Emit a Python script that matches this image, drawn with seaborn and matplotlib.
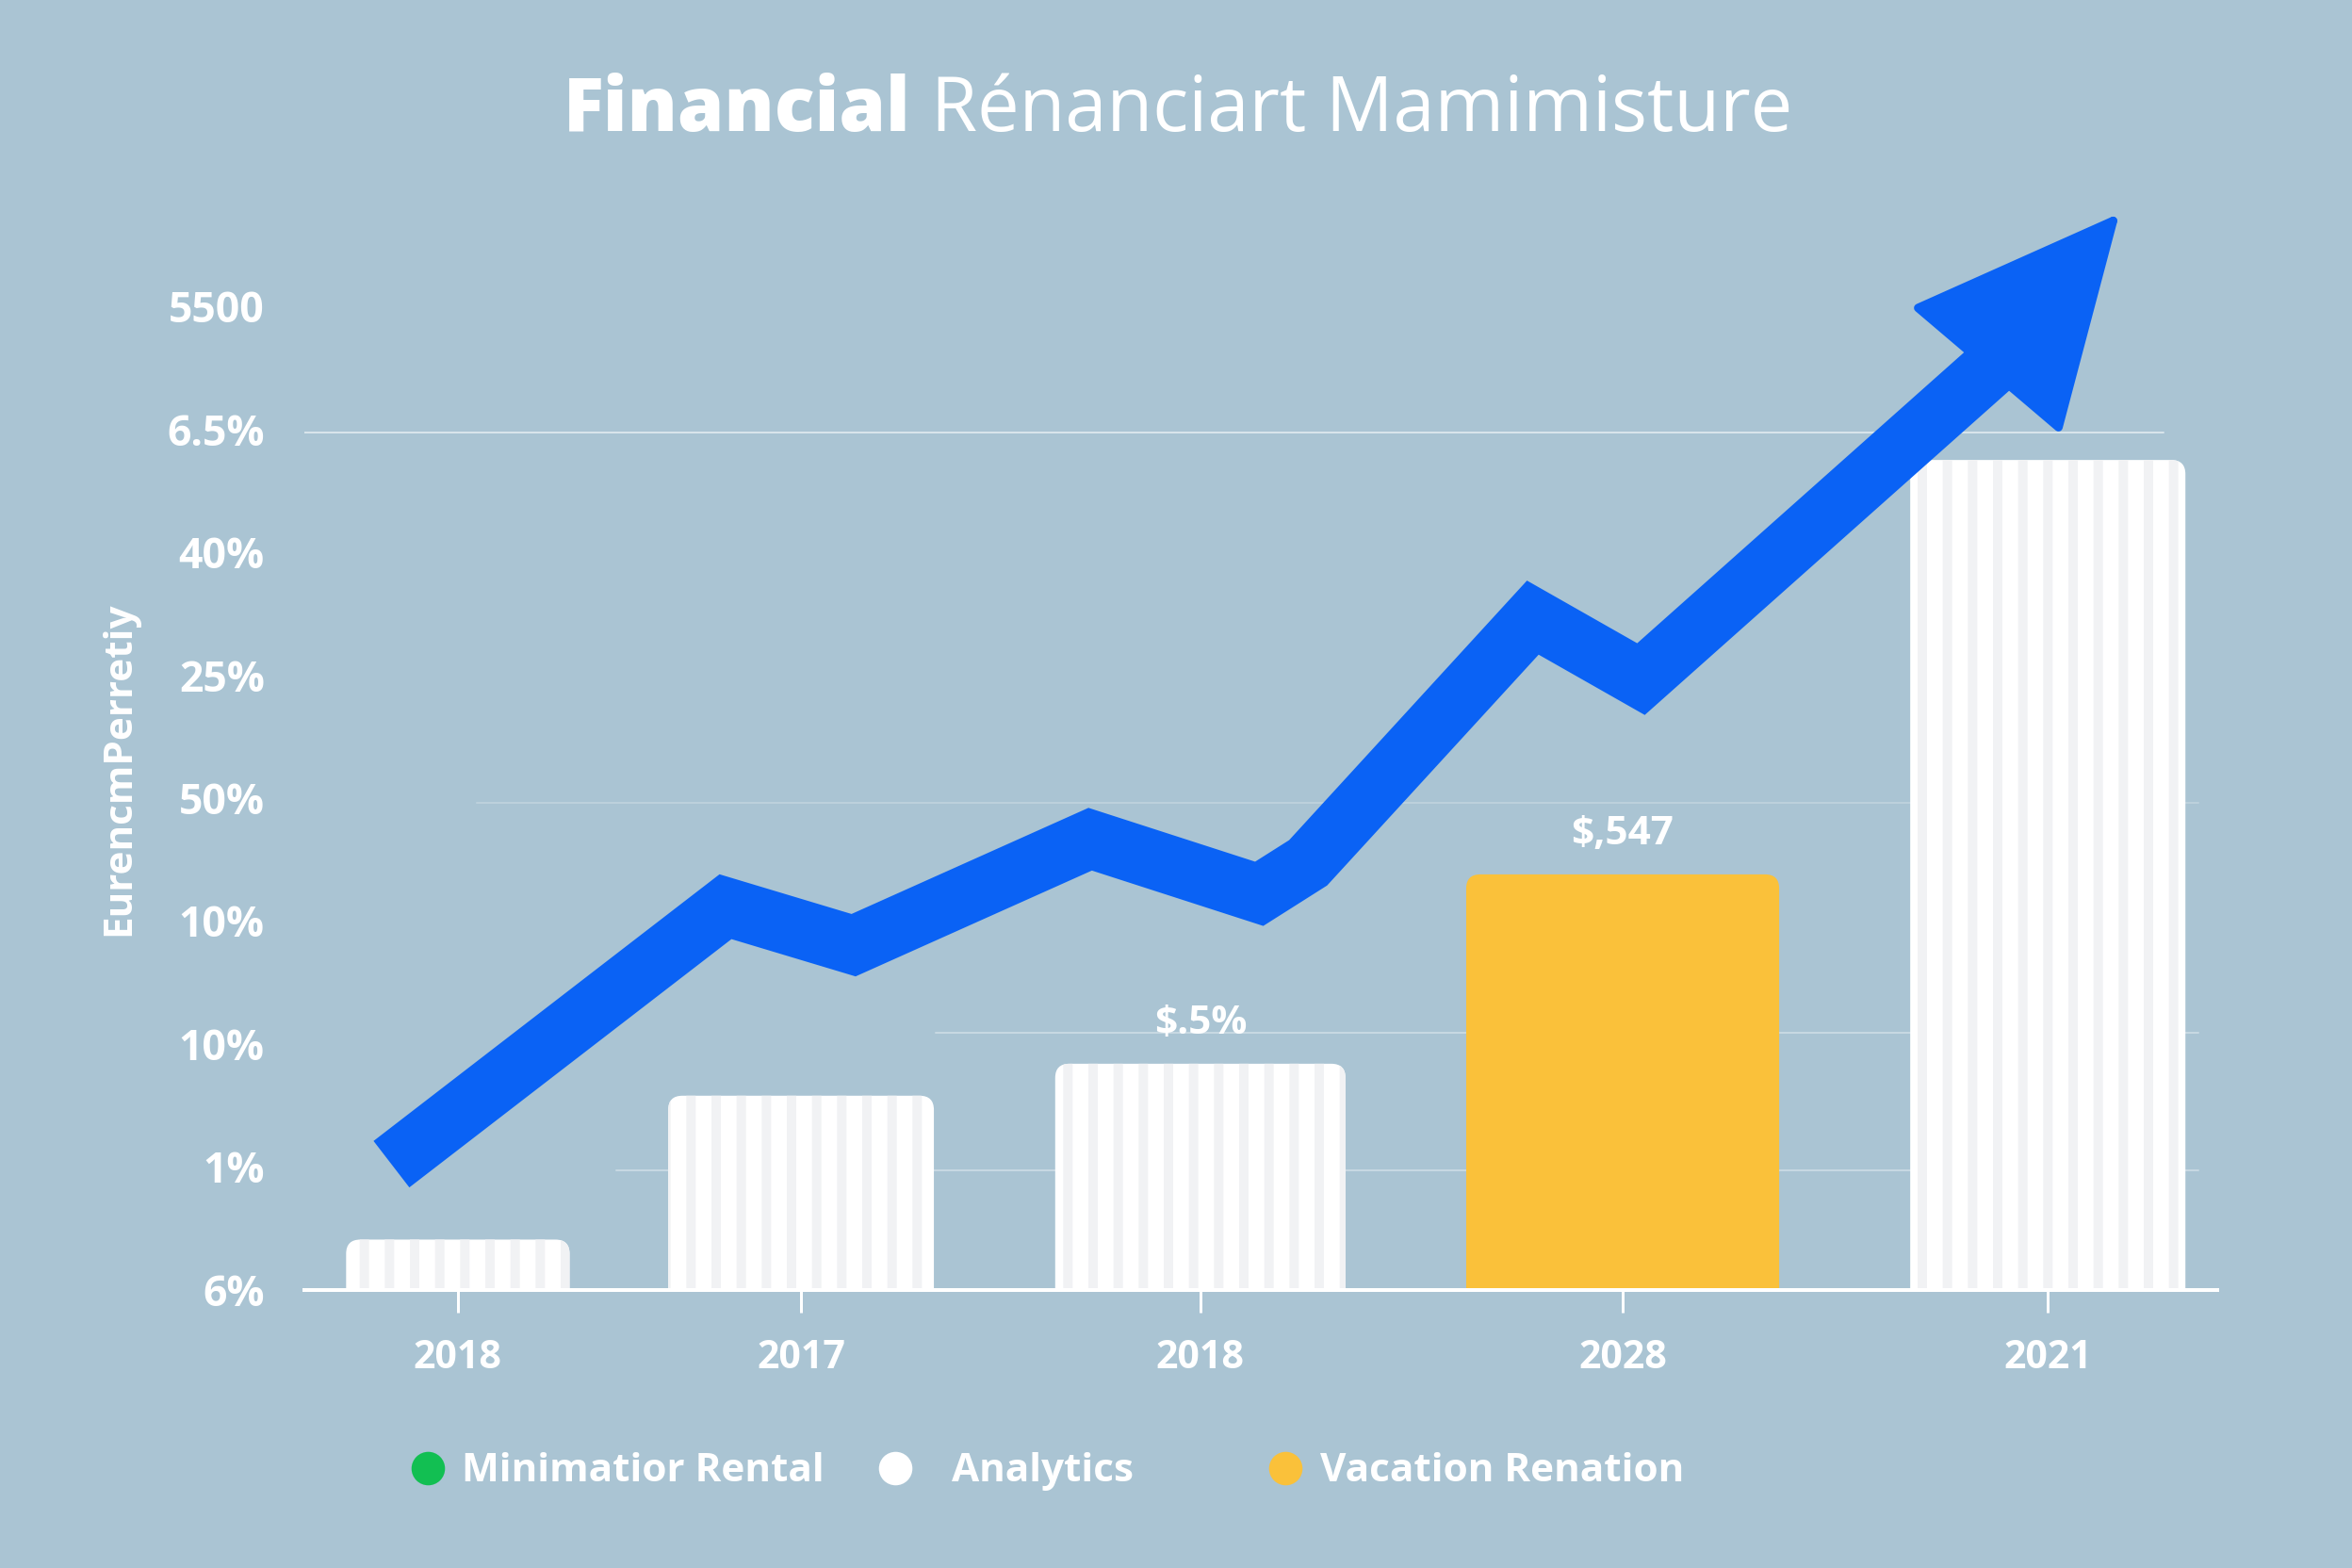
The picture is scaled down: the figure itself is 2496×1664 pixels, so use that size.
import matplotlib
matplotlib.use("Agg")
import matplotlib.pyplot as plt
import seaborn as sns
import pandas as pd
import numpy as np
from matplotlib.patches import FancyBboxPatch
from matplotlib.lines import Line2D

# ---------------- data ----------------
categories = ["2018", "2017", "2018", "2028", "2021"]
bar_values = [0.41, 1.58, 1.84, 3.38, 6.75]
bar_series = ["Analytics", "Analytics", "Analytics", "Vacation Renation", "Analytics"]
bar_labels = ["", "", "$.5%", "$,547", ""]
y_tick_labels = ["6%", "1%", "10%", "10%", "50%", "25%", "40%", "6.5%", "5500"]
trend_x = [-0.167, 0.673, 0.995, 1.590, 2.015, 2.138, 2.703, 2.975, 3.884]
trend_y = [1.023, 3.117, 2.804, 3.666, 3.222, 3.474, 5.468, 4.968, 7.584]
arrow_tail = (3.790, 7.279)
arrow_tip = (4.178, 8.755)
legend_labels = ["Minimatior Rental", "Analytics", "Vacation Renation"]
title_bold = "Financial"
title_rest = "Rénanciart Mamimisture"
y_label = "EurencmPerretiy"

# ---------------- layout / style ----------------
bar_pos = [0.0, 0.863, 1.867, 2.929, 3.998]
bar_width = [0.562, 0.668, 0.730, 0.787, 0.692]
grid_levels = [0.97, 2.09, 3.96, 6.97]
grid_spans = [(0.163, 0.99), (0.33, 0.99), (0.09, 0.99), (0.0, 0.972)]
grid_alpha = [0.35, 0.35, 0.22, 0.55]
legend_left = [0.1750, 0.3740, 0.5398]
legend_textpad = [0.47, 1.0, 0.47]

BG = "#AAC4D3"
BLUE = "#0A62F5"
YELLOW = "#FAC13A"
GREEN = "#12BF52"
WHITE = "#FFFFFF"
STRIPE = "#F1F2F4"
palette = {"Analytics": WHITE, "Vacation Renation": YELLOW}
legend_colors = [GREEN, WHITE, YELLOW]
FONT = "Open Sans"

sns.set_theme(style="white", rc={"axes.facecolor": BG, "figure.facecolor": BG})
plt.rcParams["font.family"] = [FONT, "DejaVu Sans"]
plt.rcParams["hatch.linewidth"] = 4.5
plt.rcParams["hatch.color"] = STRIPE

DPI = 160
fig = plt.figure(figsize=(15.6, 10.4), dpi=DPI)
ax = fig.add_axes([0.1294, 0.1773, 0.8133, 0.7025])
ax.set_facecolor(BG)

df = pd.DataFrame({"pos": bar_pos, "value": bar_values, "series": bar_series})
sns.barplot(data=df, x="pos", y="value", hue="series", palette=palette,
            native_scale=True, dodge=False, legend=False, saturation=1, ax=ax)

ax.set_xlim(-0.386, 4.424)
ax.set_ylim(0, 8.958)

# pixel scale of data units
p0 = ax.transData.transform((0, 0))
p1 = ax.transData.transform((1, 1))
px_x = p1[0] - p0[0]
px_y = p1[1] - p0[1]
r_px = 15
rx = r_px / px_x
ry = r_px / px_y

# replace bars with rounded, striped versions of themselves
for p in list(ax.patches):
    cx = p.get_x() + p.get_width() / 2
    i = int(np.argmin(np.abs(np.array(bar_pos) - cx)))
    h = p.get_height()
    fc = p.get_facecolor()
    p.remove()
    w = bar_width[i]
    striped = bar_series[i] == "Analytics"
    fb = FancyBboxPatch((bar_pos[i] - w / 2, -ry), w, h + ry,
                        boxstyle=f"round,pad=0,rounding_size={rx}",
                        mutation_aspect=ry / rx,
                        facecolor=fc, edgecolor=STRIPE if striped else fc,
                        linewidth=0, hatch="|" if striped else None, zorder=1)
    ax.add_patch(fb)

# faint grid lines
for lvl, (a, b), al in zip(grid_levels, grid_spans, grid_alpha):
    ax.axhline(lvl, xmin=a, xmax=b, color=WHITE, alpha=al, lw=0.9, zorder=0.5)

# trend line
sns.lineplot(x=trend_x, y=trend_y, sort=False, color=BLUE, linewidth=28,
             ax=ax, zorder=3, solid_joinstyle="miter", solid_capstyle="butt",
             clip_on=False)
ax.annotate("", xy=arrow_tip, xytext=arrow_tail, annotation_clip=False,
            arrowprops=dict(arrowstyle="-|>,head_length=9.2,head_width=4.4",
                            mutation_scale=10, fc=BLUE, ec=BLUE, lw=4,
                            joinstyle="round", capstyle="round",
                            shrinkA=0, shrinkB=0, zorder=4))

# bar value labels
for i, lab in enumerate(bar_labels):
    if lab:
        ax.annotate(lab, (bar_pos[i], bar_values[i]), xytext=(0, 19),
                    textcoords="offset points", ha="center", va="center",
                    color=WHITE, fontsize=19, fontweight="bold", family=FONT)

# axes styling
ax.set_xticks(bar_pos)
ax.set_xticklabels(categories)
ax.set_yticks(range(len(y_tick_labels)))
ax.set_yticklabels(y_tick_labels)
ax.set_xlabel("")
ax.tick_params(axis="x", colors=WHITE, length=10.8, width=1.35, pad=12.5,
               labelsize=18.5, bottom=True)
ax.tick_params(axis="y", length=0, pad=19, labelsize=20, labelcolor=WHITE)
for lbl in ax.get_xticklabels() + ax.get_yticklabels():
    lbl.set_fontweight("bold")
for s in ["left", "top", "right"]:
    ax.spines[s].set_visible(False)
ax.spines["bottom"].set_color(WHITE)
ax.spines["bottom"].set_linewidth(1.8)
ax.spines["bottom"].set_zorder(2.5)
ax.grid(False)

ax.set_ylabel(y_label, color=WHITE, fontsize=19, fontweight="bold")
ax.yaxis.label.set_va("center")
ax.yaxis.set_label_coords(-0.0966, 0.473)

# title: bold first word + regular rest, centred as a whole
r = fig.canvas.get_renderer()
title_size = 35.8
title_y = 1 - 139 / 1664
t1 = fig.text(0, title_y, title_bold, fontsize=title_size, fontweight="heavy",
              color=WHITE, ha="left", va="baseline")
t2 = fig.text(0, title_y, title_rest, fontsize=title_size, fontweight="normal",
              color=WHITE, ha="left", va="baseline")
w1 = t1.get_window_extent(r).width
w2 = t2.get_window_extent(r).width
gap = 0.28 * title_size * DPI / 72
total = w1 + gap + w2
W = fig.get_figwidth() * DPI
x0 = 1250 - total / 2
t1.set_x(x0 / W)
t2.set_x((x0 + w1 + gap) / W)

# legend: one entry per series, each placed at its own spot
for c, lab, xl, tp in zip(legend_colors, legend_labels, legend_left, legend_textpad):
    h = Line2D([], [], marker="o", ls="", markersize=16,
               markerfacecolor=c, markeredgewidth=0)
    leg = fig.legend([h], [lab], loc="center left", bbox_to_anchor=(xl, 0.0613),
                     frameon=False, labelcolor=WHITE, borderpad=0, borderaxespad=0,
                     prop={"family": FONT, "weight": "bold", "size": 19},
                     handlelength=0.8, handletextpad=tp)

fig.savefig("out.png", dpi=DPI, facecolor=BG)
